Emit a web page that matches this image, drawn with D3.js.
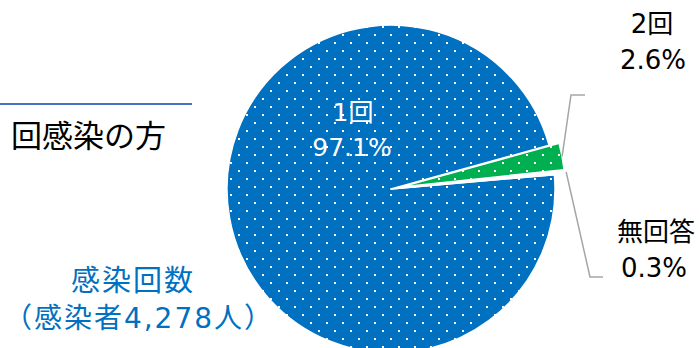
<!DOCTYPE html>
<html lang="ja">
<head>
<meta charset="utf-8">
<script src="https://cdn.jsdelivr.net/npm/d3@7"></script>
<style>
  html, body { margin: 0; padding: 0; background: #fff; }
  svg { display: block; }
  text { font-family: "DejaVu Sans", "Noto Sans CJK JP", sans-serif; font-weight: 400; }
</style>
</head>
<body>
<svg id="chart" width="699" height="348"></svg>
<script>
// 感染回数の内訳（感染者4,278人）
const categories = ["1回", "2回", "無回答"];
const values = [97.1, 2.6, 0.3];
const valueLabels = ["97.1%", "2.6%", "0.3%"];
const sliceColors = ["#0070C0", "#00B050", "#ffffff"];

const svg = d3.select("#chart");
const cx = 391, cy = 189, R = 164;
const explode = [0, 10, 0];

// white dot texture, anchored to the page grid whatever the slice offset
const defs = svg.append("defs");
function dotPattern(id, color, offX, offY) {
  const p = defs.append("pattern")
    .attr("id", id)
    .attr("patternUnits", "userSpaceOnUse")
    .attr("width", 16).attr("height", 16)
    .attr("patternTransform", `translate(${-offX},${-offY})`);
  p.append("rect").attr("width", 16).attr("height", 16).attr("fill", color);
  [[6, 2], [14, 10]].forEach(([x, y]) => {
    p.append("rect").attr("x", x).attr("y", y)
      .attr("width", 2).attr("height", 2).attr("fill", "#fff");
  });
  return `url(#${id})`;
}

const deg = Math.PI / 180;
const pie = d3.pie().sort(null).startAngle(85 * deg).endAngle(445 * deg);
const arcs = pie(values);
const arc = d3.arc().innerRadius(0).outerRadius(R);

const g = svg.append("g").attr("transform", `translate(${cx},${cy})`);

arcs.forEach((d, i) => {
  const mid = (d.startAngle + d.endAngle) / 2;
  const ox = Math.round(explode[i] * Math.sin(mid));
  const oy = Math.round(-explode[i] * Math.cos(mid));
  const fill = i === 2 ? sliceColors[i]
    : dotPattern("dots" + i, sliceColors[i], cx + ox, cy + oy);
  g.append("path")
    .attr("d", arc(d))
    .attr("transform", `translate(${ox},${oy})`)
    .attr("fill", fill)
    .attr("stroke", "#fff")
    .attr("stroke-width", 1.5)
    .attr("stroke-linejoin", "round");
  d.ox = ox; d.oy = oy; d.mid = mid;
});

// label for the main slice, inside the pie
const inner = svg.append("g").attr("fill", "#fff").attr("font-size", 25)
  .attr("text-anchor", "middle");
inner.append("text").attr("x", 353).attr("y", 112).attr("dy", "0.36em").text(categories[0]);
inner.append("text").attr("x", 352).attr("y", 147).attr("dy", "0.36em").text(valueLabels[0]);

// leader lines for the small slices
const lineColor = "#a6a6a6";
function pointOn(d, r) {
  return [cx + d.ox + r * Math.sin(d.mid), cy + d.oy - r * Math.cos(d.mid)];
}
const leaders = [
  { d: arcs[1], r: R, bend: [571, 95], end: [585, 95] },
  { d: arcs[2], r: R + 12, bend: [590, 277], end: [603, 277] }
];
leaders.forEach(L => {
  const p0 = pointOn(L.d, L.r);
  svg.append("path")
    .attr("d", d3.line()([p0, L.bend, L.end]))
    .attr("fill", "none")
    .attr("stroke", lineColor)
    .attr("stroke-width", 1.5);
});

// outside labels
const outer = svg.append("g").attr("fill", "#000").attr("font-size", 26)
  .attr("text-anchor", "middle");
outer.append("text").attr("x", 652).attr("y", 24).attr("dy", "0.36em").text(categories[1]);
outer.append("text").attr("x", 653).attr("y", 60).attr("dy", "0.36em").text(valueLabels[1]);
outer.append("text").attr("x", 656).attr("y", 232).attr("dy", "0.36em").text(categories[2]);
outer.append("text").attr("x", 654).attr("y", 268).attr("dy", "0.36em").text(valueLabels[2]);

// heading on the left
svg.append("line")
  .attr("x1", 0).attr("x2", 192).attr("y1", 104).attr("y2", 104)
  .attr("stroke", "#4472C4").attr("stroke-width", 2);
svg.append("text").attr("x", 11).attr("y", 136).attr("dy", "0.36em")
  .attr("font-size", 31).attr("fill", "#000").text("回感染の方");

// caption at bottom-left
const cap = svg.append("g").attr("fill", "#0070C0").attr("text-anchor", "middle");
cap.append("text").attr("x", 133).attr("y", 281).attr("dy", "0.36em")
  .attr("font-size", 29).attr("letter-spacing", 2).text("感染回数");
cap.append("text").attr("x", 139).attr("y", 318).attr("dy", "0.36em")
  .attr("font-size", 28).attr("letter-spacing", 2).text("（感染者4,278人）");
</script>
</body>
</html>
